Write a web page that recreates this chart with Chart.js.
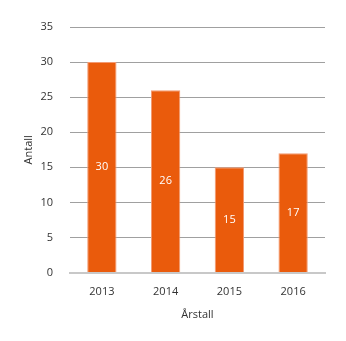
<!DOCTYPE html>
<html>
    <head>
        <title>Antall per år</title>
        <meta charset="utf-8" />
        <script src="https://cdn.jsdelivr.net/npm/chart.js@4"></script>
        <style>
            body { margin: 0; background: #fff; }
        </style>
    </head>
    <body>
        <div style="width: 346px; height: 341px">
            <canvas id="joonis"></canvas>
        </div>
        <script>
            const aastad = ["2013", "2014", "2015", "2016"];
            const antall = [30, 26, 15, 17];
            const yTicks = [0, 5, 10, 15, 20, 25, 30, 35];

            // white value label in the middle of each bar
            const tallPaaSoyle = {
                id: "tallPaaSoyle",
                afterDatasetsDraw(chart) {
                    const ctx = chart.ctx;
                    const meta = chart.getDatasetMeta(0);
                    ctx.save();
                    ctx.fillStyle = "#ffffff";
                    ctx.font = "11px 'Open Sans'";
                    ctx.textAlign = "center";
                    ctx.textBaseline = "middle";
                    meta.data.forEach(function (bar, i) {
                        const midt = (bar.y + bar.base) / 2;
                        ctx.fillText(String(antall[i]), bar.x, midt);
                    });
                    ctx.restore();
                }
            };

            new Chart(document.getElementById("joonis"), {
                type: "bar",
                data: {
                    labels: aastad,
                    datasets: [{
                        label: "Antall",
                        data: antall,
                        backgroundColor: "#ea5b0c",
                        borderColor: "#f39a72",
                        borderWidth: 1
                    }]
                },
                options: {
                    responsive: true,
                    maintainAspectRatio: false,
                    animation: false,
                    layout: { padding: { top: 27, right: 21, bottom: 20, left: 22 } },
                    plugins: {
                        legend: { display: false },
                        tooltip: { enabled: false }
                    },
                    datasets: {
                        bar: { categoryPercentage: 1, barPercentage: 0.46 }
                    },
                    scales: {
                        x: {
                            grid: { display: false, drawTicks: false },
                            border: { display: true, color: "#c8c8c8", width: 2 },
                            ticks: { color: "#333", font: { family: "'Open Sans'", size: 11 }, padding: 13 },
                            title: { display: true, text: "Årstall", color: "#333", font: { family: "'Open Sans'", size: 11 }, padding: { top: -4, bottom: 0 } }
                        },
                        y: {
                            min: 0,
                            max: 35,
                            afterBuildTicks(axis) {
                                axis.ticks = yTicks.map(v => ({ value: v }));
                            },
                            afterFit(axis) { axis.width = 48; },
                            grid: {
                                drawTicks: false,
                                color: c => c.tick.value === 0 ? "rgba(0,0,0,0)" : "#a0a0a0",
                                lineWidth: 1
                            },
                            border: { display: false },
                            ticks: { color: "#333", font: { family: "'Open Sans'", size: 11 }, padding: 17 },
                            title: { display: true, text: "Antall", color: "#333", font: { family: "'Open Sans'", size: 11 }, padding: 0 }
                        }
                    }
                },
                plugins: [tallPaaSoyle]
            });
        </script>
    </body>
</html>
